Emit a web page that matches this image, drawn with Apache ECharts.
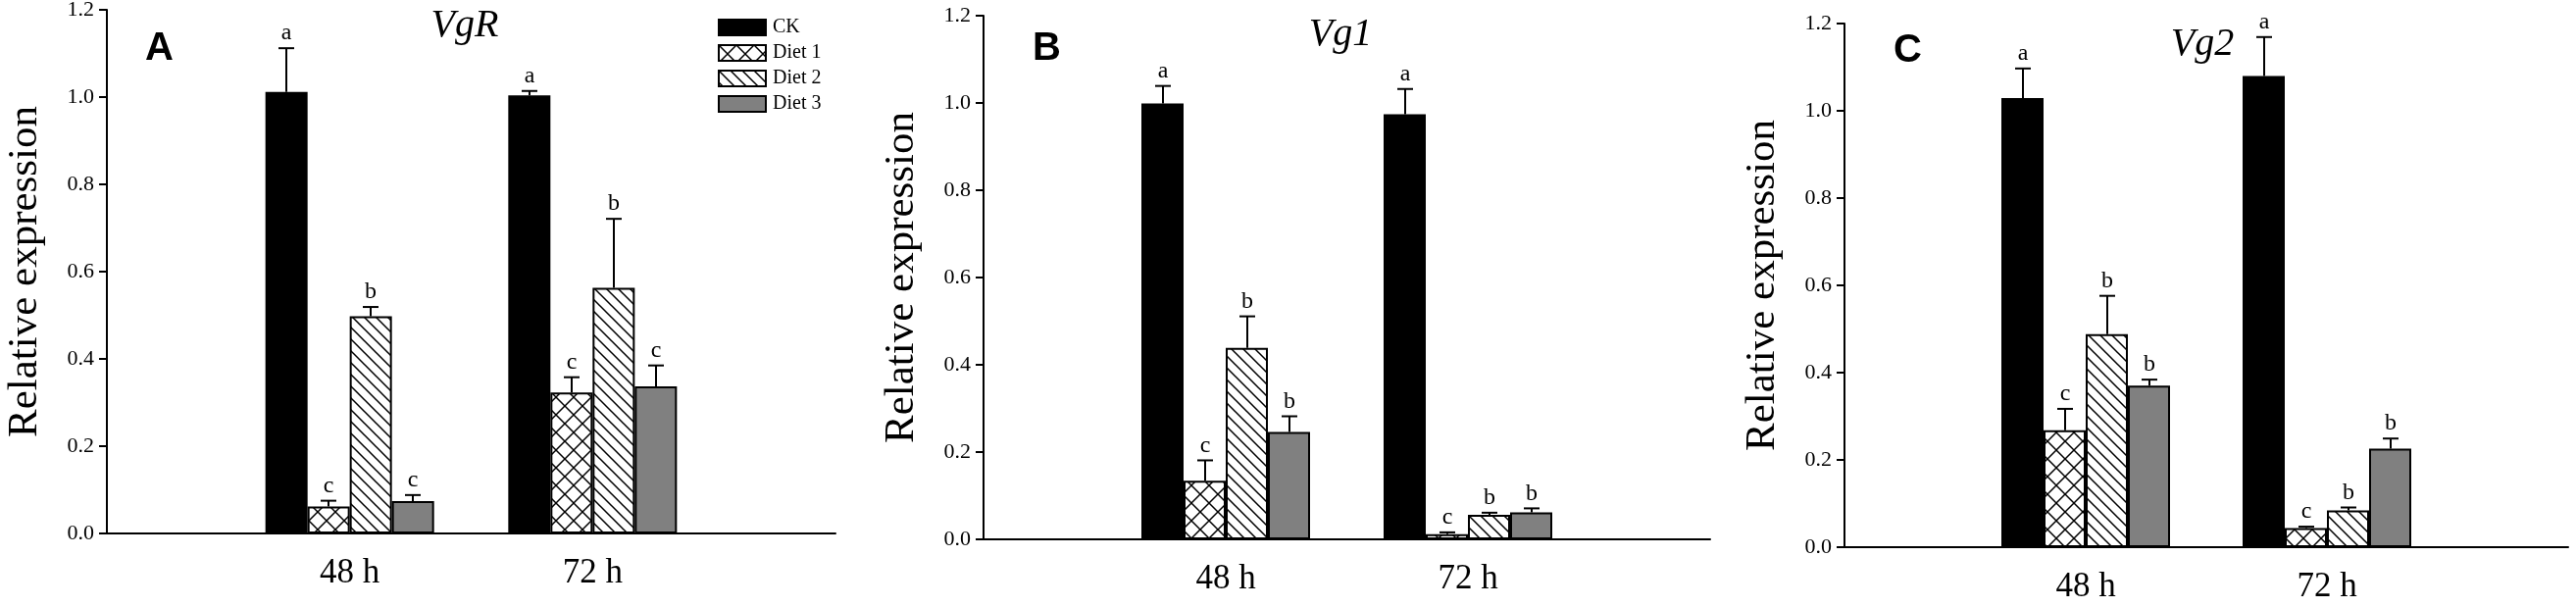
<!DOCTYPE html>
<html>
<head>
<meta charset="utf-8">
<script src="https://cdn.jsdelivr.net/npm/echarts@6/dist/echarts.min.js"></script>
<style>
html,body{margin:0;padding:0;background:#fff;}
#main{width:2627px;height:619px;}
</style>
</head>
<body>
<div id="main"></div>
<script>
// ---------- data ----------
const categories = ['', '48 h', '72 h', ''];
const seriesNames = ['CK', 'Diet 1', 'Diet 2', 'Diet 3'];
const yTicks = [0, 0.2, 0.4, 0.6, 0.8, 1.0, 1.2];
const panelTitles = ['VgR', 'Vg1', 'Vg2'];
const panelLetters = ['A', 'B', 'C'];

// Panel A – VgR  (rows: CK, Diet 1, Diet 2, Diet 3; cols: 48 h, 72 h)
const vgrMeans   = [[1.012, 1.004], [0.062, 0.323], [0.498, 0.563], [0.074, 0.337]];
const vgrErrors  = [[0.100, 0.010], [0.013, 0.035], [0.021, 0.158], [0.014, 0.048]];
const vgrLetters = [['a', 'a'], ['c', 'c'], ['b', 'b'], ['c', 'c']];

// Panel B – Vg1
const vg1Means   = [[0.999, 0.974], [0.134, 0.012], [0.439, 0.056], [0.246, 0.062]];
const vg1Errors  = [[0.040, 0.058], [0.047, 0.004], [0.072, 0.005], [0.036, 0.009]];
const vg1Letters = [['a', 'a'], ['c', 'c'], ['b', 'b'], ['b', 'b']];

// Panel C – Vg2
const vg2Means   = [[1.029, 1.080], [0.268, 0.044], [0.488, 0.084], [0.370, 0.226]];
const vg2Errors  = [[0.068, 0.089], [0.049, 0.003], [0.088, 0.007], [0.014, 0.023]];
const vg2Letters = [['a', 'a'], ['c', 'c'], ['b', 'b'], ['b', 'b']];

// ---------- styling ----------
const SERIF = 'Liberation Serif';
const SANS = 'Liberation Sans';
const BAR_W = 43;

function makeTile(kind) {
  const c = document.createElement('canvas');
  const s = kind === 'cross' ? 18 : 12;
  c.width = s; c.height = s;
  const g = c.getContext('2d');
  g.fillStyle = '#fff';
  g.fillRect(0, 0, s, s);
  g.strokeStyle = '#000';
  g.lineWidth = 1.5;
  g.beginPath();
  g.moveTo(-2, -2); g.lineTo(s + 2, s + 2);
  g.moveTo(-2, s - 2); g.lineTo(2, s + 2);
  g.moveTo(s - 2, -2); g.lineTo(s + 2, 2);
  if (kind === 'cross') {
    g.moveTo(s + 2, -2); g.lineTo(-2, s + 2);
    g.moveTo(-2, 2); g.lineTo(2, -2);
    g.moveTo(s - 2, s + 2); g.lineTo(s + 2, s - 2);
  }
  g.stroke();
  return c;
}
const fills = [
  '#000000',
  { image: makeTile('cross'), repeat: 'repeat' },
  { image: makeTile('diag'), repeat: 'repeat' },
  '#808080'
];

const panels = [
  { means: vgrMeans, errors: vgrErrors, letters: vgrLetters, left: 109, right: 1775, top: 10, bottom: 75 },
  { means: vg1Means, errors: vg1Errors, letters: vg1Letters, left: 1003, right: 883, top: 16, bottom: 69 },
  { means: vg2Means, errors: vg2Errors, letters: vg2Letters, left: 1881, right: 8, top: 24, bottom: 61 }
];

const grid = [], xAxis = [], yAxis = [], series = [], title = [];

panels.forEach((p, pi) => {
  grid.push({ left: p.left, right: p.right, top: p.top, bottom: p.bottom, containLabel: false, outerBoundsMode: 'none' });
  xAxis.push({
    type: 'category', gridIndex: pi, data: categories, boundaryGap: false,
    axisLine: { lineStyle: { color: '#000', width: 2 } },
    axisTick: { show: false },
    axisLabel: { interval: 0, color: '#000', fontFamily: SERIF, fontSize: 35, margin: 23 },
    splitLine: { show: false }
  });
  yAxis.push({
    type: 'value', gridIndex: pi, min: yTicks[0], max: yTicks[yTicks.length - 1], interval: 0.2,
    name: 'Relative expression', nameLocation: 'middle', nameGap: 62, nameRotate: 90,
    nameTextStyle: { color: '#000', fontFamily: SERIF, fontSize: 43 },
    axisLine: { show: true, lineStyle: { color: '#000', width: 2 } },
    axisTick: { show: true, inside: false, length: 8, lineStyle: { color: '#000', width: 2 } },
    axisLabel: { color: '#000', fontFamily: SERIF, fontSize: 22, margin: 13, formatter: v => v.toFixed(1) },
    splitLine: { show: false }
  });
  seriesNames.forEach((name, si) => {
    series.push({
      type: 'bar', name: name, xAxisIndex: pi, yAxisIndex: pi,
      barWidth: BAR_W, barGap: '0%',
      data: ['-', p.means[si][0], p.means[si][1], '-'],
      itemStyle: { color: fills[si], borderColor: '#000', borderWidth: 2 },
      emphasis: { disabled: true },
      z: 2
    });
  });
  const errData = [];
  const errLetters = [];
  seriesNames.forEach((name, si) => {
    [0, 1].forEach(ci => {
      errData.push([ci + 1, p.means[si][ci], p.errors[si][ci], si]);
      errLetters.push(p.letters[si][ci]);
    });
  });
  series.push({
    type: 'custom', xAxisIndex: pi, yAxisIndex: pi, z: 5, silent: true,
    data: errData,
    renderItem: function (params, api) {
      const x = api.value(0), m = api.value(1), e = api.value(2), s = api.value(3);
      const base = api.coord([x, m]);
      const top = api.coord([x, m + e]);
      const cx = Math.round(base[0] + (s - 1.5) * BAR_W);
      return {
        type: 'group',
        children: [
          { type: 'line', shape: { x1: cx, y1: base[1], x2: cx, y2: top[1] }, style: { stroke: '#000', lineWidth: 2 } },
          { type: 'line', shape: { x1: cx - 8, y1: top[1], x2: cx + 8, y2: top[1] }, style: { stroke: '#000', lineWidth: 2 } },
          { type: 'text', x: cx, y: top[1] - 3, style: { text: errLetters[params.dataIndex], textAlign: 'center', textVerticalAlign: 'bottom', fill: '#000', font: '24px "' + SERIF + '"' } }
        ]
      };
    }
  });
});

title.push({ text: panelTitles[0], left: 469, top: 1, textAlign: 'center', textStyle: { fontFamily: SERIF, fontStyle: 'italic', fontWeight: 'normal', fontSize: 40, color: '#000' } });
title.push({ text: panelTitles[1], left: 1362, top: 10, textAlign: 'center', textStyle: { fontFamily: SERIF, fontStyle: 'italic', fontWeight: 'normal', fontSize: 40, color: '#000' } });
title.push({ text: panelTitles[2], left: 2241, top: 20, textAlign: 'center', textStyle: { fontFamily: SERIF, fontStyle: 'italic', fontWeight: 'normal', fontSize: 40, color: '#000' } });
title.push({ text: panelLetters[0], left: 143, top: 25, textStyle: { fontFamily: SANS, fontWeight: 'bold', fontSize: 40, color: '#000' } });
title.push({ text: panelLetters[1], left: 1048, top: 25, textStyle: { fontFamily: SANS, fontWeight: 'bold', fontSize: 40, color: '#000' } });
title.push({ text: panelLetters[2], left: 1926, top: 27, textStyle: { fontFamily: SANS, fontWeight: 'bold', fontSize: 40, color: '#000' } });

const chart = echarts.init(document.getElementById('main'), null, { renderer: 'canvas' });
chart.setOption({
  backgroundColor: '#fff',
  animation: false,
  title: title,
  legend: {
    data: seriesNames, orient: 'vertical', left: 727, top: 13,
    icon: 'rect', itemWidth: 48, itemHeight: 16, itemGap: 6,
    textStyle: { fontFamily: SERIF, fontSize: 20, color: '#000', padding: [0, 0, 0, 2] },
    selectedMode: false,
    itemStyle: { borderColor: '#000', borderWidth: 2 }
  },
  grid: grid,
  xAxis: xAxis,
  yAxis: yAxis,
  series: series
});
</script>
</body>
</html>
